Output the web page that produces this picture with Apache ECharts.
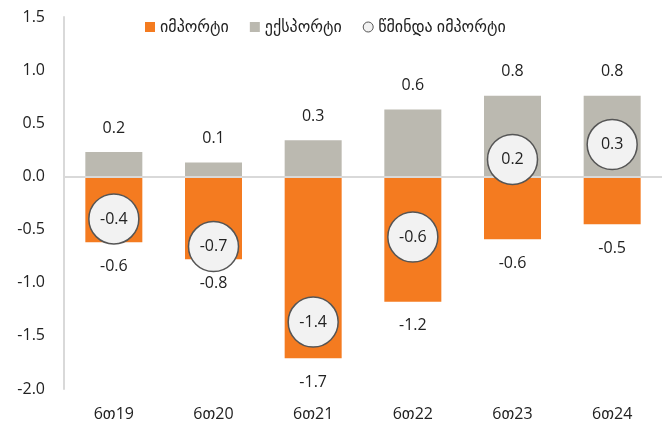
<!DOCTYPE html>
<html><head><meta charset="utf-8">
<script src="https://cdn.jsdelivr.net/npm/echarts@6/dist/echarts.min.js"></script>
<style>html,body{margin:0;padding:0;background:#fff}#c{width:662px;height:427px}</style>
</head><body><div id="c"></div>
<script>
const categories = ['6თ19','6თ20','6თ21','6თ22','6თ23','6თ24'];
const imports = [-0.62, -0.78, -1.71, -1.18, -0.59, -0.45];
const exports = [0.23, 0.13, 0.34, 0.63, 0.76, 0.76];
const netImports = [-0.40, -0.66, -1.37, -0.57, 0.16, 0.30];
const seriesNames = ['იმპორტი','ექსპორტი','წმინდა იმპორტი'];

const FONT = '"Open Sans", "DejaVu Sans", sans-serif';
const fmt = v => v.toFixed(1);
const chart = echarts.init(document.getElementById('c'));
chart.setOption({
  animation: false,
  textStyle: {fontFamily: FONT},
  legend: {
    top: 14, left: 140, itemWidth: 10, itemHeight: 10, itemGap: 21,
    textStyle: {fontSize: 16, color: '#222', fontFamily: FONT},
    data: [
      {name: seriesNames[0], icon: 'rect'},
      {name: seriesNames[1], icon: 'rect'},
      {name: seriesNames[2], icon: 'circle', itemStyle: {borderWidth: 1, borderColor: '#555', color: '#F2F2F2'}}
    ]
  },
  grid: {left: 64, right: -4, top: 17, bottom: 38},
  xAxis: {
    type: 'category', data: categories,
    axisLine: {show: false, onZero: false}, axisTick: {show: false},
    axisLabel: {fontSize: 16, color: '#222', margin: 17, fontFamily: FONT}
  },
  yAxis: {
    type: 'value', min: -2, max: 1.5, interval: 0.5,
    axisLine: {show: true, lineStyle: {color: '#d9d9d9', width: 2}},
    axisTick: {show: false}, splitLine: {show: false},
    axisLabel: {fontSize: 16, color: '#222', margin: 19, formatter: v => v.toFixed(1), fontFamily: FONT}
  },
  series: [
    {
      name: seriesNames[0], type: 'bar', data: imports, barWidth: 57, barGap: '-100%',
      itemStyle: {color: '#F47B20'},
      label: {show: true, position: 'bottom', distance: 16, fontSize: 16, color: '#222', formatter: p => fmt(p.value), fontFamily: FONT},
      markLine: {
        silent: true, symbol: 'none', label: {show: false},
        lineStyle: {color: '#d9d9d9', width: 2, type: 'solid'},
        data: [{yAxis: 0}]
      }
    },
    {
      name: seriesNames[1], type: 'bar', data: exports, barWidth: 57,
      itemStyle: {color: '#BBB9B0'},
      label: {show: true, position: 'top', distance: 16, fontSize: 16, color: '#222', formatter: p => fmt(p.value), fontFamily: FONT}
    },
    {
      name: seriesNames[2], type: 'scatter', data: netImports, symbolSize: 50, z: 5,
      itemStyle: {color: '#F2F2F2', borderColor: '#555', borderWidth: 1.5, opacity: 1},
      label: {show: true, position: 'inside', fontSize: 16, color: '#222', formatter: p => fmt(p.value), fontFamily: FONT}
    }
  ]
});
</script></body></html>
